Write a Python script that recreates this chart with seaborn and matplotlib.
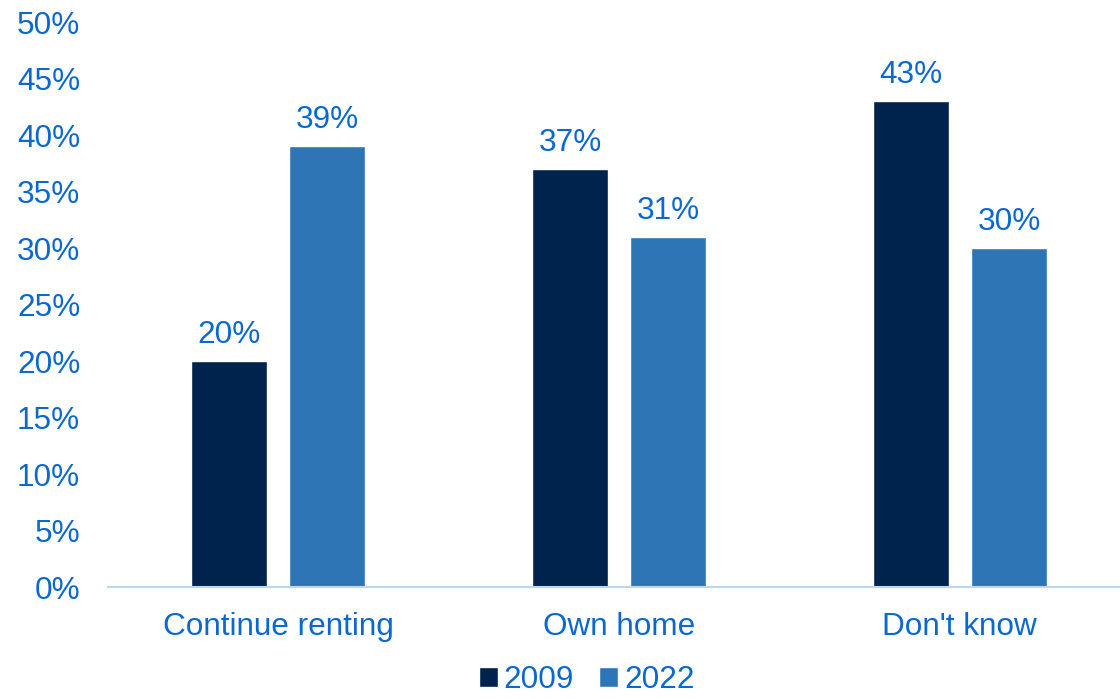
import pandas as pd
import matplotlib.pyplot as plt
import seaborn as sns

categories = ['Continue renting', 'Own home', "Don't know"]
years = ['2009', '2022']
values_2009 = [20, 37, 43]
values_2022 = [39, 31, 30]

navy = '#00234E'
blue = '#2E75B6'
text_blue = '#0A68D0'

df = pd.DataFrame({
    'category': categories * 2,
    'year': [years[0]] * 3 + [years[1]] * 3,
    'value': values_2009 + values_2022,
})

sns.set_style('white')
plt.rcParams['font.family'] = ['Liberation Sans', 'DejaVu Sans']
fs = 22.7

fig = plt.figure(figsize=(11.2, 6.99), dpi=100)
ax = fig.add_axes([0.0964, 0.160, 0.9036, 0.8085])

sns.barplot(data=df, x='category', y='value', hue='year', palette=[navy, blue],
            saturation=1, width=0.576, gap=0.224, ax=ax, legend=True)

for cont in ax.containers:
    ax.bar_label(cont, labels=[f'{v:.0f}%' for v in cont.datavalues],
                 padding=8, fontsize=fs, color=text_blue)

ax.set_ylim(0, 50)
ax.set_xlim(-0.5, 2.47)
ax.set_yticks(range(0, 51, 5))
ax.set_yticklabels([f'{t}%' for t in range(0, 51, 5)])
ax.tick_params(axis='y', length=0, pad=20, labelsize=fs, labelcolor=text_blue)
ax.tick_params(axis='x', length=0, pad=18, labelsize=fs, labelcolor=text_blue)
ax.set_xlabel('')
ax.set_ylabel('')
for s in ['top', 'right', 'left']:
    ax.spines[s].set_visible(False)
ax.spines['bottom'].set_color('#BDD7EE')
ax.spines['bottom'].set_linewidth(1.5)

handles, labels = ax.get_legend_handles_labels()
ax.legend(handles, labels, loc='lower center', bbox_to_anchor=(0.524, -0.017),
          bbox_transform=fig.transFigure,
          ncol=2, frameon=False, fontsize=fs, labelcolor=text_blue,
          handlelength=0.6, handleheight=0.6, handletextpad=0.2,
          columnspacing=0.8, borderpad=0.0)

plt.savefig('out.png', dpi=100)
